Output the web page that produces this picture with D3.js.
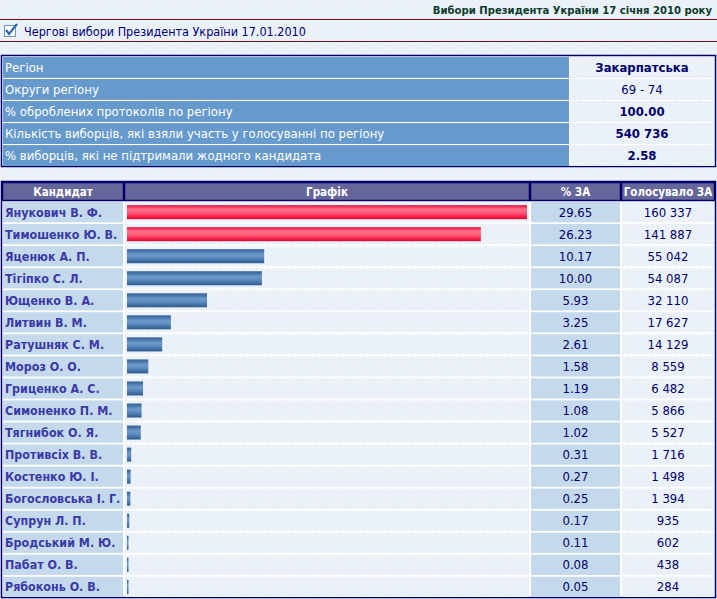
<!DOCTYPE html>
<html>
<head>
<meta charset="utf-8">
<script src="https://cdn.jsdelivr.net/npm/d3@7"></script>
<style>
  body { margin: 0; background: #eef3f9; }
  svg { display: block; font-family: "DejaVu Sans Condensed", "DejaVu Sans", sans-serif; }
</style>
</head>
<body>
<div id="chart"></div>
<script>
// page header texts
const pageTitle = "Вибори Президента України 17 січня 2010 року";
const electionName = "Чергові вибори Президента України 17.01.2010";

// region summary table
const regionLabels = [
  "Регіон",
  "Округи регіону",
  "% оброблених протоколів по регіону",
  "Кількість виборців, які взяли участь у голосуванні по регіону",
  "% виборців, які не підтримали жодного кандидата"
];
const regionValues = ["Закарпатська", "69 - 74", "100.00", "540 736", "2.58"];

// results table
const columnTitles = ["Кандидат", "Графік", "% ЗА", "Голосувало ЗА"];
const candidates = [
  "Янукович В. Ф.", "Тимошенко Ю. В.", "Яценюк А. П.", "Тігіпко С. Л.",
  "Ющенко В. А.", "Литвин В. М.", "Ратушняк С. М.", "Мороз О. О.",
  "Гриценко А. С.", "Симоненко П. М.", "Тягнибок О. Я.", "Противсіх В. В.",
  "Костенко Ю. І.", "Богословська І. Г.", "Супрун Л. П.", "Бродський М. Ю.",
  "Пабат О. В.", "Рябоконь О. В."
];
const percents = [29.65, 26.23, 10.17, 10.00, 5.93, 3.25, 2.61, 1.58, 1.19,
  1.08, 1.02, 0.31, 0.27, 0.25, 0.17, 0.11, 0.08, 0.05];
const votes = [160337, 141887, 55042, 54087, 32110, 17627, 14129, 8559, 6482,
  5866, 5527, 1716, 1498, 1394, 935, 602, 438, 284];
const leaders = 2; // first two get the red bar

const W = 717, H = 599;
const navy = "#00006b";

const svg = d3.select("#chart").append("svg")
  .attr("width", W).attr("height", H);

const defs = svg.append("defs");

// dotted background texture
const pat = defs.append("pattern").attr("id", "dots")
  .attr("width", 6).attr("height", 6).attr("patternUnits", "userSpaceOnUse");
pat.append("rect").attr("width", 6).attr("height", 6).attr("fill", "#eaf0f7");
pat.append("rect").attr("x", 1).attr("y", 1).attr("width", 1).attr("height", 1).attr("fill", "#ffffff");
pat.append("rect").attr("x", 4).attr("y", 4).attr("width", 1).attr("height", 1).attr("fill", "#f8fbfe");

const mkGrad = (id, stops) => {
  const g = defs.append("linearGradient").attr("id", id)
    .attr("x1", 0).attr("y1", 0).attr("x2", 0).attr("y2", 1);
  g.selectAll("stop").data(stops).enter().append("stop")
    .attr("offset", d => d[0]).attr("stop-color", d => d[1]);
};
mkGrad("redBar", [["0%", "#e0103a"], ["30%", "#ff7088"], ["55%", "#ff5a78"], ["100%", "#e4002c"]]);
mkGrad("blueBar", [["0%", "#2f5f95"], ["40%", "#6e9acb"], ["60%", "#5f8cc0"], ["100%", "#2c5a90"]]);

svg.append("rect").attr("width", W).attr("height", H).attr("fill", "url(#dots)");

// title
svg.append("text")
  .attr("x", 712).attr("y", 14)
  .attr("text-anchor", "end")
  .attr("font-size", 11.2).attr("font-weight", "bold")
  .attr("fill", "#0b3b2c")
  .text(pageTitle);

svg.append("line").attr("x1", 0).attr("x2", W).attr("y1", 19.5).attr("y2", 19.5)
  .attr("stroke", "#7a0a0a").attr("stroke-width", 1.2);
svg.append("line").attr("x1", 0).attr("x2", W).attr("y1", 41.5).attr("y2", 41.5)
  .attr("stroke", "#7a0a0a").attr("stroke-width", 1.2);

// checkbox icon
const cb = svg.append("g").attr("transform", "translate(4,24)");
cb.append("rect").attr("x", 0.5).attr("y", 1.5).attr("width", 11).attr("height", 11)
  .attr("fill", "#ffffff").attr("stroke", "#6f93c4");
cb.append("path").attr("d", "M2,6 L5,10 L13,0")
  .attr("fill", "none").attr("stroke", "#2f68c0").attr("stroke-width", 2.2);

svg.append("text")
  .attr("x", 24).attr("y", 31)
  .attr("dominant-baseline", "central")
  .attr("font-size", 12.5).attr("fill", "#000080")
  .text(electionName);

// ---- region table ----
const t1 = { x: 1, y: 55, w: 715, h: 112 };
svg.append("rect").attr("x", t1.x + 0.5).attr("y", t1.y + 0.5)
  .attr("width", t1.w - 1).attr("height", t1.h - 1)
  .attr("fill", "#ffffff").attr("stroke", navy).attr("stroke-width", 1.5);

const y1 = d3.scaleBand().domain(d3.range(regionLabels.length))
  .range([t1.y + 2, t1.y + t1.h - 1]).paddingInner(0.05);

const r1 = svg.append("g").selectAll("g").data(regionLabels).enter().append("g");
r1.append("rect").attr("x", 3).attr("y", (d, i) => y1(i))
  .attr("width", 566).attr("height", y1.bandwidth()).attr("fill", "#6699cc");
r1.append("rect").attr("x", 570).attr("y", (d, i) => y1(i))
  .attr("width", 144).attr("height", y1.bandwidth()).attr("fill", "url(#dots)");
r1.append("text").attr("x", 5).attr("y", (d, i) => y1(i) + y1.bandwidth() / 2)
  .attr("dominant-baseline", "central")
  .attr("font-size", 13).attr("fill", "#ffffff")
  .text(d => d);
r1.append("text").attr("x", 642).attr("y", (d, i) => y1(i) + y1.bandwidth() / 2)
  .attr("dominant-baseline", "central").attr("text-anchor", "middle")
  .attr("font-size", 13).attr("fill", navy)
  .attr("font-weight", (d, i) => i === 1 ? "normal" : "bold")
  .text((d, i) => regionValues[i]);

// ---- results table ----
const t2 = { x: 1, y: 181, w: 715, h: 417 };
svg.append("rect").attr("x", t2.x + 0.5).attr("y", t2.y + 0.5)
  .attr("width", t2.w - 1).attr("height", t2.h - 1)
  .attr("fill", "#ffffff").attr("stroke", navy).attr("stroke-width", 1.5);

const cols = [
  { x: 3, w: 120, fill: "#c5d9ec" },
  { x: 125, w: 404, fill: "url(#dots)" },
  { x: 531, w: 89, fill: "#c5d9ec" },
  { x: 622, w: 92, fill: "url(#dots)" }
];

// header
const head = svg.append("g").selectAll("g").data(columnTitles).enter().append("g");
head.append("rect")
  .attr("x", (d, i) => cols[i].x - 0.5).attr("y", 182.5)
  .attr("width", (d, i) => cols[i].w + 1).attr("height", 18)
  .attr("fill", "#656699").attr("stroke", navy).attr("stroke-width", 1.5);
head.append("text")
  .attr("x", (d, i) => cols[i].x + cols[i].w / 2).attr("y", 192)
  .attr("dominant-baseline", "central").attr("text-anchor", "middle")
  .attr("font-size", 11.5).attr("font-weight", "bold").attr("fill", "#ffffff")
  .text(d => d);

const y2 = d3.scaleBand().domain(candidates)
  .range([202, 597]).paddingInner(0.08);

const x2 = d3.scaleLinear().domain([0, d3.max(percents)])
  .range([0, 400]);

const fmtPct = d3.format(".2f");
const fmtVotes = v => d3.format(",")(v).replace(/,/g, " ");

const rows = svg.append("g").selectAll("g").data(candidates).enter().append("g")
  .attr("transform", d => `translate(0,${y2(d)})`);

cols.forEach(c => {
  rows.append("rect").attr("x", c.x).attr("y", 0)
    .attr("width", c.w).attr("height", y2.bandwidth()).attr("fill", c.fill);
});

rows.append("text")
  .attr("x", 5).attr("y", y2.bandwidth() / 2)
  .attr("dominant-baseline", "central")
  .attr("font-size", 12.4).attr("font-weight", "bold").attr("fill", "#3a3aa6")
  .text(d => d);

const barH = 14;
rows.append("rect")
  .attr("x", 127)
  .attr("y", (y2.bandwidth() - barH) / 2)
  .attr("width", (d, i) => Math.max(1.5, x2(percents[i])))
  .attr("height", barH)
  .attr("fill", (d, i) => i < leaders ? "url(#redBar)" : "url(#blueBar)");

rows.append("text")
  .attr("x", cols[2].x + cols[2].w / 2).attr("y", y2.bandwidth() / 2)
  .attr("dominant-baseline", "central").attr("text-anchor", "middle")
  .attr("font-size", 13).attr("fill", navy)
  .text((d, i) => fmtPct(percents[i]));

rows.append("text")
  .attr("x", cols[3].x + cols[3].w / 2).attr("y", y2.bandwidth() / 2)
  .attr("dominant-baseline", "central").attr("text-anchor", "middle")
  .attr("font-size", 13).attr("fill", navy)
  .text((d, i) => fmtVotes(votes[i]));
</script>
</body>
</html>
